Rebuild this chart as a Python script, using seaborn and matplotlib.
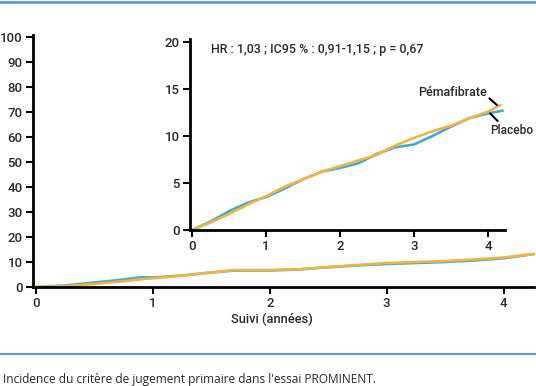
import matplotlib
matplotlib.use("Agg")
import matplotlib.pyplot as plt
import seaborn as sns
import pandas as pd

# ---- data ----
main_t = [0, 0.25, 0.5, 0.75, 0.9, 1.0, 1.25, 1.5, 1.7, 2.0, 2.25, 2.5, 2.75, 3.0, 3.25, 3.5, 3.75, 4.0, 4.26]
main_placebo = [0, 0.6, 1.8, 3.0, 3.9, 3.8, 4.6, 5.8, 6.6, 6.6, 7.0, 7.9, 8.6, 9.2, 9.6, 10.0, 10.6, 11.5, 13.2]
main_pema = [0, 0.3, 1.2, 2.3, 3.1, 3.5, 4.5, 5.8, 6.8, 6.8, 7.1, 8.0, 8.8, 9.6, 10.0, 10.4, 11.0, 11.8, 13.2]

inset_t_placebo = [0, 0.25, 0.5, 0.75, 1.0, 1.25, 1.5, 1.75, 2.0, 2.25, 2.5, 2.75, 3.0, 3.25, 3.5, 3.75, 4.0, 4.2]
inset_placebo = [0, 0.9, 2.0, 2.9, 3.5, 4.4, 5.4, 6.2, 6.6, 7.1, 8.1, 8.8, 9.1, 10.0, 11.0, 11.9, 12.4, 12.7]
inset_t_pema = [0, 0.25, 0.5, 0.75, 1.0, 1.25, 1.5, 1.75, 2.0, 2.25, 2.5, 2.75, 3.0, 3.25, 3.5, 3.75, 4.0, 4.17]
inset_pema = [0, 0.8, 1.7, 2.7, 3.6, 4.6, 5.4, 6.2, 6.8, 7.4, 8.0, 9.0, 9.8, 10.5, 11.1, 11.9, 12.6, 13.3]

main_yticks = [0, 10, 20, 30, 40, 50, 60, 70, 80, 90, 100]
inset_yticks = [0, 5, 10, 15, 20]
xticks = [0, 1, 2, 3, 4]
x_label = "Suivi (années)"
stats_text = "HR : 1,03 ; IC95 % : 0,91-1,15 ; p = 0,67"
label_pema = "Pémafibrate"
label_placebo = "Placebo"
caption = "Incidence du critère de jugement primaire dans l'essai PROMINENT."

BLUE = "#41a9d9"
ORANGE = "#f0b540"
FRAME = "#5b9bd5"
TXT = "#2a2a2a"

sns.set_theme(style="white")
plt.rcParams["font.family"] = ["Roboto", "DejaVu Sans"]
plt.rcParams["font.weight"] = "medium"

W, H = 536, 386
fig = plt.figure(figsize=(W / 100, H / 100), dpi=100)

def fx(px):
    return px / W

def fy(py):
    return 1 - py / H

def style_axes(a):
    for s in ["top", "right"]:
        a.spines[s].set_visible(False)
    for s in ["left", "bottom"]:
        a.spines[s].set_linewidth(2)
        a.spines[s].set_color("black")
    a.tick_params(axis="both", direction="out", length=5, width=1.5, colors="black",
                  labelcolor=TXT, labelsize=9.5, pad=2, left=True, bottom=True)
    a.patch.set_alpha(0)

pal = {"Placebo": BLUE, "Pémafibrate": ORANGE}

# main axes
ax = fig.add_axes([fx(32.5), fy(287), fx(534 - 32.5), (287 - 34.5) / H])
df_main = pd.DataFrame({"t": main_t * 2,
                        "v": main_placebo + main_pema,
                        "g": ["Placebo"] * len(main_t) + ["Pémafibrate"] * len(main_t)})
sns.lineplot(data=df_main, x="t", y="v", hue="g", palette=pal,
             hue_order=["Placebo", "Pémafibrate"], ax=ax, legend=False, linewidth=1.9, clip_on=False)
ax.set_xlim(-0.03, 4.26)
ax.set_ylim(0, 101)
ax.set_xticks(xticks)
ax.set_yticks(main_yticks)
ax.set_xlabel("")
ax.set_ylabel("")
style_axes(ax)
fig.text(fx(272), fy(319), x_label, fontsize=9.3, color=TXT, ha="center", va="center")

# inset axes
ax2 = fig.add_axes([fx(189.8), fy(230), fx(505 - 189.8), (230 - 39.2) / H])
df_in = pd.DataFrame({"t": inset_t_placebo + inset_t_pema,
                      "v": inset_placebo + inset_pema,
                      "g": ["Placebo"] * len(inset_t_placebo) + ["Pémafibrate"] * len(inset_t_pema)})
sns.lineplot(data=df_in, x="t", y="v", hue="g", palette=pal,
             hue_order=["Placebo", "Pémafibrate"], ax=ax2, legend=False, linewidth=1.9, clip_on=False)
ax2.set_xlim(-0.03, 4.23)
ax2.set_ylim(0, 20.3)
ax2.set_xticks(xticks)
ax2.set_yticks(inset_yticks)
ax2.set_xlabel("")
ax2.set_ylabel("")
style_axes(ax2)

ax2.text(0.26, 19.2, stats_text, fontsize=9, color=TXT, va="center", ha="left")
# annotations
ax2.text(3.06, 14.6, label_pema, fontsize=9, color=TXT, va="center", ha="left")
ax2.plot([4.02, 4.12], [14.0, 13.3], color="black", lw=1.5, clip_on=False)
fig.text(fx(533), fy(131), label_placebo, fontsize=8.6, color=TXT, va="center", ha="right")
ax2.plot([4.03, 4.13], [12.4, 11.6], color="black", lw=1.5, clip_on=False)

# frame lines and caption
fig.add_artist(plt.Line2D([0, 1], [fy(2), fy(2)], color=FRAME, lw=2, transform=fig.transFigure))
fig.add_artist(plt.Line2D([0, 1], [fy(354), fy(354)], color=FRAME, lw=1.5, transform=fig.transFigure))
fig.text(fx(3), fy(380), caption, fontsize=8.6, color=TXT, va="center", ha="left",
         family=["Open Sans", "DejaVu Sans"], fontweight="normal")

fig.savefig("out.png", dpi=100)
